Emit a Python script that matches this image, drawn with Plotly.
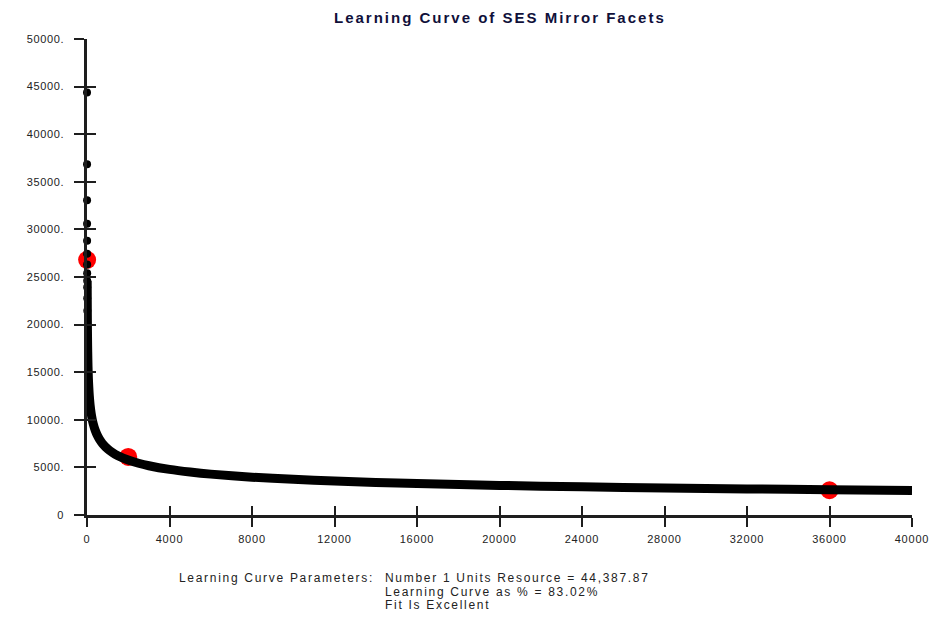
import plotly.graph_objects as go

# Fitted learning curve: resource per unit against cumulative unit number
units = [1, 2, 3, 4, 5, 6, 7, 8, 9, 10, 12, 15, 20, 25, 30, 40, 50, 60, 75,
         100, 125, 150, 200, 250, 300, 400, 500, 600, 750, 1000, 1250, 1500,
         2000, 2500, 3000, 4000, 5000, 6000, 8000, 10000, 12000, 14000,
         16000, 20000, 24000, 28000, 32000, 36000, 40000]
resource = [44388, 36851, 33050, 30593, 28814, 27437, 26326, 25398, 24607,
            23921, 22778, 21454, 19859, 18706, 17811, 16487, 15528, 14786,
            13927, 12892, 12142, 11562, 10703, 10080, 9599, 8885, 8371, 7969,
            7507, 6947, 6544, 6231, 5768, 5433, 5173, 4788, 4510, 4295, 3975,
            3745, 3565, 3421, 3300, 3109, 2960, 2840, 2740, 2655, 2581]

# Observed data points
obs_units = [6, 2000, 36000]
obs_resource = [26800, 6100, 2600]

x_ticks = [0, 4000, 8000, 12000, 16000, 20000, 24000, 28000, 32000, 36000, 40000]
x_tick_text = ["0", "4000", "8000", "12000", "16000", "20000", "24000",
               "28000", "32000", "36000", "40000"]
y_ticks = [0, 5000, 10000, 15000, 20000, 25000, 30000, 35000, 40000, 45000, 50000]
y_tick_text = ["0", "5000.", "10000.", "15000.", "20000.", "25000.",
               "30000.", "35000.", "40000.", "45000.", "50000."]

title_text = "Learning Curve of SES Mirror Facets"
param_label = "Learning Curve Parameters:"
param_lines = ["Number 1 Units Resource = 44,387.87",
               "Learning Curve as % = 83.02%",
               "Fit Is Excellent"]

n_dots = 12  # early units drawn as separate dots


def spaced(text, px):
    return '<span style="letter-spacing:%spx">%s</span>' % (px, text)


axis_col = "#1e1e1e"
tick_font = dict(family="Liberation Sans", size=11, color="#222222")

fig = go.Figure()

fig.add_trace(go.Scatter(
    x=obs_units, y=obs_resource, mode="markers",
    marker=dict(color="#ff0000", size=18, line=dict(width=0)),
    cliponaxis=False, showlegend=False, hoverinfo="skip"))

fig.add_trace(go.Scatter(
    x=units[n_dots - 4:], y=resource[n_dots - 4:], mode="lines",
    line=dict(color="black", width=9, shape="spline", smoothing=0.6),
    cliponaxis=False, showlegend=False))

fig.add_trace(go.Scatter(
    x=units[:n_dots], y=resource[:n_dots], mode="markers",
    marker=dict(color="black", size=8, line=dict(width=0)),
    cliponaxis=False, showlegend=False))

# Empty trace that carries the inner halves of the crossing tick marks
fig.add_trace(go.Scatter(x=[], y=[], xaxis="x2", yaxis="y2",
                         showlegend=False, hoverinfo="skip"))

common_axis = dict(showgrid=False, zeroline=False, linecolor=axis_col,
                   tickcolor=axis_col, tickwidth=2)

fig.update_layout(
    width=933, height=620,
    margin=dict(l=87, r=21, t=39, b=105, autoexpand=False),
    paper_bgcolor="white", plot_bgcolor="white",
    xaxis=dict(range=[0, 40000], tickmode="array", tickvals=x_ticks,
               ticktext=[spaced(t, 0.8) for t in x_tick_text],
               ticks="outside", ticklen=9,
               showline=True, linewidth=2.5, tickfont=tick_font,
               ticklabelstandoff=3, **common_axis),
    yaxis=dict(range=[0, 50000], tickmode="array", tickvals=y_ticks,
               ticktext=[spaced(t, 0.6) for t in y_tick_text],
               ticks="outside", ticklen=10,
               showline=True, linewidth=2.5, tickfont=tick_font,
               ticklabelstandoff=8, **common_axis),
    xaxis2=dict(range=[0, 40000], overlaying="x", anchor="y", side="bottom",
                tickmode="array", tickvals=x_ticks, ticks="inside",
                ticklen=9, showticklabels=False, showline=False,
                **common_axis),
    yaxis2=dict(range=[0, 50000], overlaying="y", anchor="x", side="left",
                tickmode="array", tickvals=y_ticks, ticks="inside",
                ticklen=9, showticklabels=False, showline=False,
                **common_axis),
)

fig.add_annotation(
    text="<b>" + spaced(title_text, 2) + "</b>", xref="paper", yref="paper",
    x=0.5, y=1.0, yshift=22, xanchor="center", yanchor="middle",
    showarrow=False,
    font=dict(family="Liberation Sans", size=15, color="#10103a"))

text_font = dict(family="Liberation Sans", size=12, color="#222222")
fig.add_annotation(
    text=spaced(param_label, 1.7), xref="paper", yref="paper",
    x=(177 - 87) / 825, y=(515 - 578) / 476, xanchor="left",
    yanchor="middle", showarrow=False, align="left", font=text_font)

for i, line in enumerate(param_lines):
    fig.add_annotation(
        text=spaced(line, 1.7), xref="paper", yref="paper",
        x=(383 - 87) / 825, y=(515 - 578 - 13.5 * i) / 476, xanchor="left",
        yanchor="middle", showarrow=False, align="left", font=text_font)

fig.write_html("out.html")
